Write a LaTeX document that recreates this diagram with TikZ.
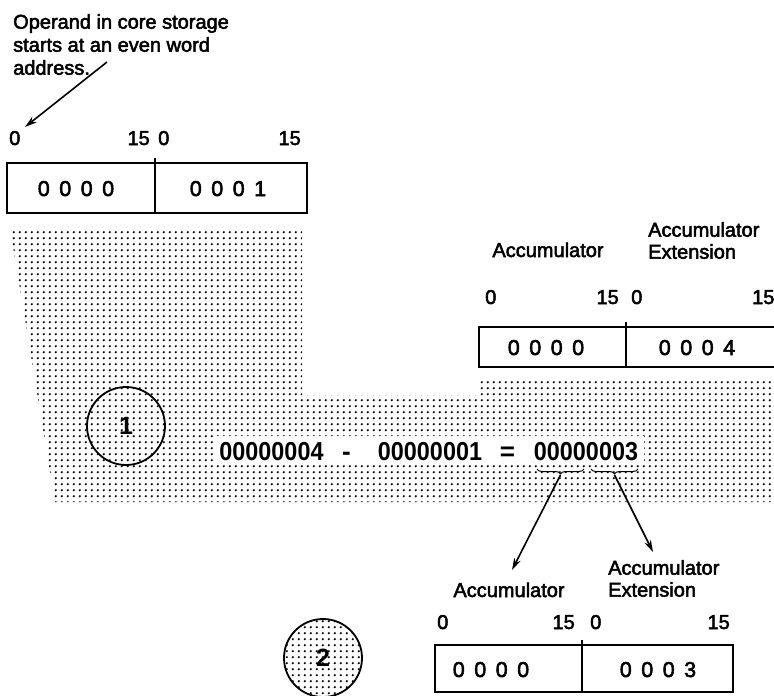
\documentclass[tikz,border=0pt]{standalone}
\usepackage{fontspec}
\setmainfont{Liberation Sans}[FakeBold=2.5]
\newfontfamily\eqfont{Liberation Sans Bold}
\usetikzlibrary{arrows.meta,decorations.pathreplacing,patterns}

\pgfdeclarepatternformonly{halftone}{\pgfpointorigin}{\pgfpoint{5.8pt}{5.8pt}}{\pgfpoint{5.8pt}{5.8pt}}{%
  \pgfpathcircle{\pgfpoint{2.9pt}{2.9pt}}{1.2pt}\pgfusepath{fill}}
\newcommand{\dg}[4]{#1\hspace{9.5pt}#2\hspace{9.5pt}#3\hspace{9.5pt}#4}

\begin{document}
\begin{tikzpicture}[x=1pt,y=-1pt,
  txt/.style={font=\fontsize{20}{22}\selectfont, inner sep=0pt},
  lbl/.style={txt, anchor=base west},
  lblr/.style={txt, anchor=base east},
  cell/.style={font=\fontsize{21.5}{22}\selectfont, inner sep=0pt, anchor=base},
  multi/.style={txt, align=left, anchor=north west},
  eqt/.style={font=\eqfont\fontsize{26}{26}\selectfont, inner sep=0pt, anchor=base},
  regbox/.style={draw, line width=1.5pt},
  shade/.style={pattern=halftone, pattern color=black},
  arr/.style={line width=1.6pt, -{Stealth[length=12pt,width=7pt]}},
  brc/.style={decorate, decoration={brace, amplitude=5pt, mirror}, line width=1pt},
  numcirc/.style={circle, draw, line width=1.8pt, minimum size=78pt, inner sep=0pt, font=\eqfont\fontsize{25}{25}\selectfont}
]
\clip (0,0) rectangle (774,696);
\fill[white] (0,0) rectangle (774,696);

% shaded band
\fill[shade] (10,228) -- (302,228) -- (302,395) -- (477,395) -- (477,381)
  -- (780,381) -- (780,502) -- (55,502) -- cycle;

% annotation
\node[multi, font=\fontsize{20}{23}\selectfont] (note) at (13,14) {Operand in core storage\\starts at an even word\\address.};
\coordinate (notetail) at (107,62);
\coordinate (notehead) at (25,127);
\draw[arr] (notetail) -- (notehead);

% core storage word pair
\node[lbl] (s0a) at (9,145) {0};
\node[lblr] (s15a) at (150,145) {15};
\node[lbl] (s0b) at (158,145) {0};
\node[lblr] (s15b) at (301,145) {15};
\draw[regbox] (7,163) rectangle (307,213);
\draw[regbox] (155,158) -- (155,213);
\node[cell] (sv1) at (76,196) {\dg0000};
\node[cell] (sv2) at (228,196) {\dg0001};

% accumulator before
\node[txt, anchor=base] (accA) at (548,257) {Accumulator};
\node[multi] (extA) at (648,222) {Accumulator\\Extension};
\node[lbl] (a0a) at (485,304) {0};
\node[lblr] (a15a) at (619,304) {15};
\node[lbl] (a0b) at (631,304) {0};
\node[lbl] (a15b) at (752,304) {15};
\draw[regbox] (479,327) rectangle (790,367);
\draw[regbox] (626,322) -- (626,367);
\node[cell] (av1) at (546,355) {\dg0000};
\node[cell] (av2) at (697,355) {\dg0004};

% circle 1
\node[numcirc] (c1) at (126,426) {1};

% equation
\fill[white] (214,436) rectangle (644,464);
\node[eqt] (n1) at (271.5,460) {\scalebox{0.9}[1]{00000004}};
\node[eqt] (mi) at (346.5,460) {-};
\node[eqt] (n2) at (430,460) {\scalebox{0.9}[1]{00000001}};
\node[eqt] (eq) at (507.5,460) {=};
\node[eqt] (n3) at (586,460) {\scalebox{0.9}[1]{00000003}};

% braces
\coordinate (b1l) at (537,469);
\coordinate (b1r) at (584,469);
\coordinate (b2l) at (591,469);
\coordinate (b2r) at (638,469);
\draw[brc] (b1l) -- (b1r);
\draw[brc] (b2l) -- (b2r);
\coordinate (b1t) at (560.5,475);
\coordinate (b2t) at (614.5,475);
\coordinate (e1) at (512,570);
\coordinate (e2) at (653,552);
\draw[arr] (b1t) -- (e1);
\draw[arr] (b2t) -- (e2);

% accumulator after
\node[txt, anchor=base] (accB) at (509,597) {Accumulator};
\node[multi] (extB) at (608,560) {Accumulator\\Extension};
\node[lbl] (r0a) at (437,629) {0};
\node[lblr] (r15a) at (575,629) {15};
\node[lbl] (r0b) at (590,629) {0};
\node[lblr] (r15b) at (730,629) {15};
\draw[regbox] (435,645) rectangle (733,692);
\draw[regbox] (582,640) -- (582,692);
\node[cell] (rv1) at (491,677) {\dg0000};
\node[cell] (rv2) at (658,677) {\dg0003};

% circle 2
\node[numcirc, shade] (c2) at (323,658) {2};
\end{tikzpicture}
\end{document}
